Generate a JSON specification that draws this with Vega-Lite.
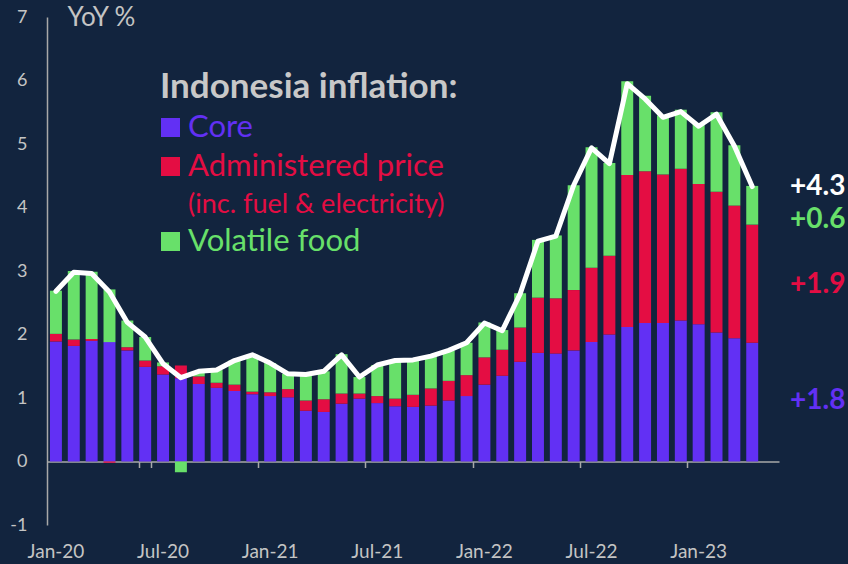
{
  "$schema": "https://vega.github.io/schema/vega-lite/v6.json",
  "width": 732,
  "height": 508,
  "autosize": {"type": "none"},
  "padding": {"left": 47, "top": 17, "right": 69, "bottom": 39},
  "background": "#12243e",
  "config": {"view": {"stroke": null}, "font": "Lato"},
  "datasets": {
    "infl": [
      {"m": "Jan-20", "Core": 1.89, "Administered price": 0.12, "Volatile food": 0.68, "Headline": 2.68},
      {"m": "Feb-20", "Core": 1.82, "Administered price": 0.10, "Volatile food": 1.08, "Headline": 2.98},
      {"m": "Mar-20", "Core": 1.90, "Administered price": 0.03, "Volatile food": 1.06, "Headline": 2.96},
      {"m": "Apr-20", "Core": 1.88, "Administered price": -0.02, "Volatile food": 0.83, "Headline": 2.67},
      {"m": "May-20", "Core": 1.75, "Administered price": 0.05, "Volatile food": 0.42, "Headline": 2.19},
      {"m": "Jun-20", "Core": 1.49, "Administered price": 0.10, "Volatile food": 0.37, "Headline": 1.96},
      {"m": "Jul-20", "Core": 1.37, "Administered price": 0.13, "Volatile food": 0.06, "Headline": 1.54},
      {"m": "Aug-20", "Core": 1.31, "Administered price": 0.20, "Volatile food": -0.17, "Headline": 1.32},
      {"m": "Sep-20", "Core": 1.22, "Administered price": 0.12, "Volatile food": 0.08, "Headline": 1.42},
      {"m": "Oct-20", "Core": 1.16, "Administered price": 0.08, "Volatile food": 0.20, "Headline": 1.44},
      {"m": "Nov-20", "Core": 1.11, "Administered price": 0.10, "Volatile food": 0.38, "Headline": 1.59},
      {"m": "Dec-20", "Core": 1.06, "Administered price": 0.04, "Volatile food": 0.58, "Headline": 1.68},
      {"m": "Jan-21", "Core": 1.03, "Administered price": 0.06, "Volatile food": 0.46, "Headline": 1.55},
      {"m": "Feb-21", "Core": 1.01, "Administered price": 0.13, "Volatile food": 0.24, "Headline": 1.38},
      {"m": "Mar-21", "Core": 0.80, "Administered price": 0.16, "Volatile food": 0.41, "Headline": 1.37},
      {"m": "Apr-21", "Core": 0.78, "Administered price": 0.20, "Volatile food": 0.44, "Headline": 1.42},
      {"m": "May-21", "Core": 0.91, "Administered price": 0.16, "Volatile food": 0.62, "Headline": 1.68},
      {"m": "Jun-21", "Core": 0.99, "Administered price": 0.08, "Volatile food": 0.26, "Headline": 1.33},
      {"m": "Jul-21", "Core": 0.92, "Administered price": 0.11, "Volatile food": 0.49, "Headline": 1.52},
      {"m": "Aug-21", "Core": 0.87, "Administered price": 0.12, "Volatile food": 0.60, "Headline": 1.59},
      {"m": "Sep-21", "Core": 0.86, "Administered price": 0.19, "Volatile food": 0.55, "Headline": 1.60},
      {"m": "Oct-21", "Core": 0.88, "Administered price": 0.27, "Volatile food": 0.51, "Headline": 1.66},
      {"m": "Nov-21", "Core": 0.96, "Administered price": 0.31, "Volatile food": 0.48, "Headline": 1.75},
      {"m": "Dec-21", "Core": 1.03, "Administered price": 0.33, "Volatile food": 0.51, "Headline": 1.87},
      {"m": "Jan-22", "Core": 1.21, "Administered price": 0.43, "Volatile food": 0.55, "Headline": 2.18},
      {"m": "Feb-22", "Core": 1.35, "Administered price": 0.41, "Volatile food": 0.31, "Headline": 2.06},
      {"m": "Mar-22", "Core": 1.57, "Administered price": 0.54, "Volatile food": 0.54, "Headline": 2.64},
      {"m": "Apr-22", "Core": 1.71, "Administered price": 0.87, "Volatile food": 0.91, "Headline": 3.47},
      {"m": "May-22", "Core": 1.70, "Administered price": 0.87, "Volatile food": 0.99, "Headline": 3.55},
      {"m": "Jun-22", "Core": 1.75, "Administered price": 0.95, "Volatile food": 1.65, "Headline": 4.35},
      {"m": "Jul-22", "Core": 1.88, "Administered price": 1.17, "Volatile food": 1.90, "Headline": 4.94},
      {"m": "Aug-22", "Core": 2.00, "Administered price": 1.24, "Volatile food": 1.46, "Headline": 4.69},
      {"m": "Sep-22", "Core": 2.12, "Administered price": 2.39, "Volatile food": 1.48, "Headline": 5.95},
      {"m": "Oct-22", "Core": 2.18, "Administered price": 2.39, "Volatile food": 1.19, "Headline": 5.71},
      {"m": "Nov-22", "Core": 2.18, "Administered price": 2.34, "Volatile food": 0.93, "Headline": 5.42},
      {"m": "Dec-22", "Core": 2.22, "Administered price": 2.39, "Volatile food": 0.93, "Headline": 5.51},
      {"m": "Jan-23", "Core": 2.16, "Administered price": 2.21, "Volatile food": 0.95, "Headline": 5.28},
      {"m": "Feb-23", "Core": 2.03, "Administered price": 2.22, "Volatile food": 1.25, "Headline": 5.47},
      {"m": "Mar-23", "Core": 1.94, "Administered price": 2.09, "Volatile food": 0.95, "Headline": 4.97},
      {"m": "Apr-23", "Core": 1.87, "Administered price": 1.86, "Volatile food": 0.61, "Headline": 4.33}
    ],
    "notes": [
      {"m": "May-23", "series": "Headline", "label": "+4.3", "pos": 4.33},
      {"m": "May-23", "series": "Volatile food", "label": "+0.6", "pos": 3.8},
      {"m": "May-23", "series": "Administered price", "label": "+1.9", "pos": 2.78},
      {"m": "May-23", "series": "Core", "label": "+1.8", "pos": 0.95}
    ]
  },
  "resolve": {"axis": {"x": "independent"}},
  "layer": [
    {
      "data": {"name": "infl"},
      "transform": [
        {"fold": ["Core", "Administered price", "Volatile food"], "as": ["series", "value"]},
        {"calculate": "indexof(['Core', 'Administered price', 'Volatile food'], datum.series)", "as": "stackOrder"}
      ],
      "mark": {"type": "bar"},
      "encoding": {
        "x": {
          "field": "m", "type": "ordinal",
          "scale": {
            "domain": ["Jan-20","Feb-20","Mar-20","Apr-20","May-20","Jun-20","Jul-20","Aug-20","Sep-20","Oct-20","Nov-20","Dec-20",
                       "Jan-21","Feb-21","Mar-21","Apr-21","May-21","Jun-21","Jul-21","Aug-21","Sep-21","Oct-21","Nov-21","Dec-21",
                       "Jan-22","Feb-22","Mar-22","Apr-22","May-22","Jun-22","Jul-22","Aug-22","Sep-22","Oct-22","Nov-22","Dec-22",
                       "Jan-23","Feb-23","Mar-23","Apr-23","May-23"],
            "paddingInner": 0.33, "paddingOuter": 0.165
          },
          "axis": {
            "orient": "bottom", "title": null, "domain": false, "ticks": false,
            "values": ["Jan-20", "Jul-20", "Jan-21", "Jul-21", "Jan-22", "Jul-22", "Jan-23"],
            "labelAngle": 0, "labelFont": "Lato", "labelFontSize": 19, "labelColor": "#c4c4c4",
            "labelPadding": 17
          }
        },
        "y": {
          "field": "value", "type": "quantitative", "stack": "zero",
          "scale": {"domain": [-1, 7], "nice": false},
          "axis": {
            "values": [-1, 0, 1, 2, 3, 4, 5, 6, 7], "labelExpr": "'' + datum.value", "grid": false, "ticks": false,
            "domainColor": "#a8a8a8", "domainWidth": 1.5,
            "labelFont": "Lato", "labelFontSize": 18, "labelColor": "#c4c4c4", "labelPadding": 20,
            "title": "YoY %", "titleAngle": 0, "titleX": 20, "titleY": 0, "titleAlign": "left",
            "titleBaseline": "middle", "titleFont": "Lato", "titleFontSize": 26, "titleFontWeight": "normal",
            "titleColor": "#c4c4c4"
          }
        },
        "order": {"field": "stackOrder", "type": "quantitative", "sort": "ascending"},
        "color": {
          "field": "series", "type": "nominal",
          "scale": {
            "domain": ["Core", "Administered price", "(inc. fuel & electricity)", "Volatile food", "Headline"],
            "range": ["#6230f4", "#e40d43", "transparent", "#68e06a", "#ffffff"]
          },
          "legend": {
            "orient": "none", "legendX": 113, "legendY": 53,
            "values": ["Core", "Administered price", "(inc. fuel & electricity)", "Volatile food"],
            "title": "Indonesia inflation:", "titleFont": "Lato", "titleFontSize": 35, "titleFontWeight": "bold",
            "titleColor": "#c8c8c8", "titlePadding": 7, "titleLimit": 500,
            "symbolType": "square", "symbolSize": 361, "symbolStrokeWidth": 0, "symbolOffset": -5,
            "labelFont": "Lato", "labelFontSize": 31, "labelOffset": 2, "labelLimit": 400, "rowPadding": 7,
            "encode": {
              "labels": {
                "update": {
                  "fill": {"signal": "datum.value === 'Core' ? '#6230f4' : datum.value === 'Volatile food' ? '#68e06a' : '#e40d43'"},
                  "fontSize": {"signal": "datum.value === '(inc. fuel & electricity)' ? 27 : 31"}
                }
              }
            }
          }
        }
      }
    },
    {
      "data": {"name": "infl"},
      "mark": {"type": "line", "color": "#ffffff", "strokeWidth": 5, "strokeJoin": "round", "strokeCap": "round"},
      "encoding": {
        "x": {
          "field": "m", "type": "ordinal",
          "axis": {
            "orient": "bottom", "title": null, "labels": false, "offset": -63.5,
            "values": ["Jun-20", "Dec-20", "Jun-21", "Dec-21", "Jun-22", "Dec-22"],
            "tickBand": "extent", "tickExtra": false, "tickSize": 6, "tickColor": "#a8a8a8", "tickWidth": 1.5,
            "domainColor": "#a8a8a8", "domainWidth": 1.5
          }
        },
        "y": {"field": "Headline", "type": "quantitative"}
      }
    },
    {
      "data": {"name": "notes"},
      "mark": {"type": "text", "align": "left", "baseline": "middle", "dx": 20, "font": "Lato", "fontSize": 28, "fontWeight": "bold"},
      "encoding": {
        "x": {"field": "m", "type": "ordinal", "axis": null},
        "y": {"field": "pos", "type": "quantitative"},
        "text": {"field": "label"},
        "color": {"field": "series", "type": "nominal"}
      }
    }
  ]
}
